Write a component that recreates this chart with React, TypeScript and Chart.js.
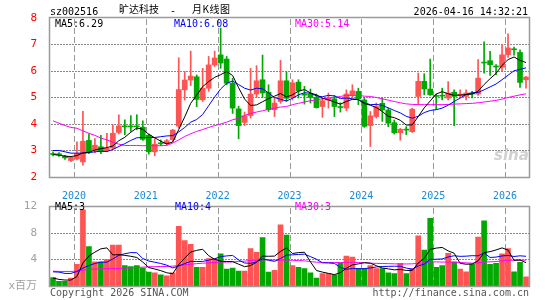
import React, { useEffect, useRef } from 'react';
import { Chart, registerables } from 'chart.js';

Chart.register(...registerables);

// ---- categories (monthly) ----
const months = [
  '2019-09', '2019-10', '2019-11', '2019-12',
  '2020-01', '2020-02', '2020-03', '2020-04', '2020-05', '2020-06', '2020-07', '2020-08', '2020-09', '2020-10', '2020-11', '2020-12',
  '2021-01', '2021-02', '2021-03', '2021-04', '2021-05', '2021-06', '2021-07', '2021-08', '2021-09', '2021-10', '2021-11', '2021-12',
  '2022-01', '2022-02', '2022-03', '2022-04', '2022-05', '2022-06', '2022-07', '2022-08', '2022-09', '2022-10', '2022-11', '2022-12',
  '2023-01', '2023-02', '2023-03', '2023-04', '2023-05', '2023-06', '2023-07', '2023-08', '2023-09', '2023-10', '2023-11', '2023-12',
  '2024-01', '2024-02', '2024-03', '2024-04', '2024-05', '2024-06', '2024-07', '2024-08', '2024-09', '2024-10', '2024-11', '2024-12',
  '2025-01', '2025-02', '2025-03', '2025-04', '2025-05', '2025-06', '2025-07', '2025-08', '2025-09', '2025-10', '2025-11', '2025-12',
  '2026-01', '2026-02', '2026-03', '2026-04',
];

// ---- price series ----
const opens = [2.88, 2.86, 2.78, 2.62, 2.68, 2.57, 3.38, 3.02, 3.14, 2.99, 3.09, 3.68, 3.93, 3.92, 3.92, 3.88, 3.58, 2.95, 3.28, 3.26,
  3.41, 3.92, 5.29, 5.66, 5.78, 4.91, 5.35, 6.23, 6.61, 6.45, 5.54, 4.57, 4.06, 4.32, 5.13, 5.67, 5.2, 4.54, 4.85, 5.63,
  5.0, 5.58, 5.13, 5.13, 5.01, 4.66, 4.9, 4.95, 4.64, 4.6, 5.1, 5.23, 4.91, 3.94, 4.28, 4.78, 4.53, 4.05, 3.67, 3.79,
  3.71, 5.04, 5.61, 5.32, 5.06, 5.08, 4.98, 5.2, 5.08, 5.04, 5.15, 5.13, 6.33, 6.39, 6.18, 6.14, 6.61, 6.82, 6.7, 5.67];
const highs = [2.95, 2.92, 2.82, 2.76, 3.33, 4.48, 3.62, 3.45, 3.57, 3.65, 3.97, 4.35, 4.16, 4.32, 4.35, 4.12, 3.62, 3.45, 3.4, 3.42,
  3.8, 6.5, 5.98, 6.75, 5.85, 6.1, 6.55, 6.75, 7.62, 6.55, 5.73, 4.67, 4.45, 6.1, 6.2, 6.6, 5.48, 5.0, 6.4, 5.97,
  5.67, 5.67, 5.42, 5.32, 5.13, 4.98, 5.17, 5.08, 4.8, 5.29, 5.48, 5.35, 5.0, 4.47, 4.79, 4.98, 4.6, 4.15, 3.84, 3.9,
  4.6, 5.92, 5.9, 6.45, 5.13, 5.35, 5.6, 5.29, 5.29, 5.29, 5.23, 6.43, 7.1, 6.74, 6.24, 7.0, 7.4, 6.9, 6.8, 5.8];
const lows = [2.8, 2.78, 2.66, 2.58, 2.64, 2.45, 2.88, 2.92, 2.88, 2.96, 3.05, 3.63, 3.59, 3.72, 3.78, 3.38, 2.86, 2.8, 3.18, 3.2,
  3.35, 3.85, 4.9, 5.45, 4.65, 4.85, 5.23, 6.17, 6.1, 5.48, 4.4, 3.44, 3.94, 4.22, 5.0, 5.0, 4.47, 4.28, 4.78, 4.85,
  4.91, 4.98, 4.75, 4.79, 4.6, 4.25, 4.6, 4.28, 4.45, 4.5, 4.98, 4.73, 3.87, 3.15, 4.22, 4.1, 3.9, 3.62, 3.39, 3.6,
  3.68, 4.73, 5.1, 5.08, 4.54, 4.91, 4.91, 3.94, 4.98, 4.91, 4.98, 5.08, 5.92, 5.83, 5.86, 5.98, 6.51, 6.6, 5.38, 5.35];
const closes = [2.85, 2.84, 2.72, 2.74, 2.88, 3.35, 2.95, 3.2, 2.97, 3.08, 3.65, 3.93, 3.89, 3.89, 3.89, 3.42, 2.95, 3.24, 3.25, 3.37,
  3.77, 5.3, 5.66, 5.81, 4.93, 5.35, 6.23, 6.49, 6.3, 5.54, 4.6, 3.94, 4.31, 5.13, 5.63, 5.17, 4.54, 4.79, 5.63, 4.97,
  5.55, 5.25, 5.09, 5.0, 4.62, 4.88, 4.98, 4.66, 4.62, 5.13, 5.25, 4.95, 3.91, 4.31, 4.66, 4.53, 4.03, 3.67, 3.8, 3.77,
  4.56, 5.61, 5.32, 5.1, 5.04, 5.05, 5.17, 5.04, 5.13, 5.17, 5.13, 5.73, 6.3, 6.24, 6.15, 6.61, 6.87, 6.8, 5.57, 5.77];
const ma5 = [2.85, 2.82, 2.79, 2.77, 2.81, 2.91, 2.93, 3.02, 3.07, 3.11, 3.17, 3.37, 3.5, 3.69, 3.85, 3.8, 3.61, 3.48, 3.35, 3.25,
  3.32, 3.79, 4.27, 4.78, 5.09, 5.41, 5.6, 5.76, 5.86, 5.98, 5.83, 5.37, 4.94, 4.7, 4.72, 4.84, 4.96, 5.05, 5.15, 5.02,
  5.1, 5.24, 5.3, 5.17, 5.1, 4.97, 4.91, 4.83, 4.75, 4.85, 4.93, 4.92, 4.77, 4.71, 4.62, 4.47, 4.29, 4.24, 4.14, 3.96,
  3.97, 4.28, 4.61, 4.87, 5.13, 5.22, 5.14, 5.08, 5.09, 5.11, 5.13, 5.24, 5.49, 5.71, 5.91, 6.21, 6.43, 6.53, 6.4, 6.32];
const ma10 = [3.0, 3.0, 2.95, 2.9, 2.9, 2.9, 2.92, 2.95, 2.97, 2.96, 3.04, 3.15, 3.26, 3.38, 3.48, 3.49, 3.49, 3.49, 3.52, 3.55,
  3.56, 3.7, 3.87, 4.07, 4.17, 4.36, 4.69, 5.02, 5.32, 5.54, 5.62, 5.49, 5.35, 5.28, 5.35, 5.33, 5.17, 5.0, 4.93, 4.87,
  4.97, 5.1, 5.18, 5.16, 5.06, 5.03, 5.08, 5.06, 4.96, 4.98, 4.95, 4.92, 4.8, 4.73, 4.74, 4.7, 4.61, 4.51, 4.42, 4.29,
  4.22, 4.29, 4.43, 4.51, 4.54, 4.6, 4.71, 4.85, 4.98, 5.12, 5.18, 5.19, 5.29, 5.4, 5.51, 5.67, 5.84, 6.01, 6.06, 6.12];
const ma30 = [4.12, 4.03, 3.94, 3.87, 3.84, 3.74, 3.65, 3.57, 3.47, 3.4, 3.31, 3.24, 3.19, 3.19, 3.19, 3.18, 3.18, 3.18, 3.18, 3.19,
  3.28, 3.4, 3.53, 3.63, 3.72, 3.79, 3.87, 3.94, 4.0, 4.07, 4.16, 4.22, 4.32, 4.4, 4.45, 4.5, 4.55, 4.6, 4.64, 4.66,
  4.73, 4.78, 4.83, 4.88, 4.91, 4.95, 4.98, 5.0, 5.04, 5.08, 5.08, 5.08, 5.05, 5.04, 5.0, 4.95, 4.9, 4.85, 4.8, 4.76,
  4.74, 4.73, 4.73, 4.73, 4.73, 4.73, 4.74, 4.75, 4.76, 4.77, 4.78, 4.8, 4.83, 4.86, 4.89, 4.94, 5.0, 5.05, 5.1, 5.14];

// ---- volume series (x 百万) ----
const volumes = [1.29, 0.71, 0.71, 1.19, 3.29, 11.5, 5.95, 3.67, 3.67, 4.0, 6.19, 6.19, 3.1, 2.95, 3.1, 2.71, 2.1, 2.0, 1.67, 1.52,
  2.0, 9.0, 6.86, 6.29, 2.81, 2.81, 4.14, 4.14, 4.86, 2.57, 2.71, 2.24, 2.24, 5.67, 5.1, 7.33, 2.1, 2.38, 9.24, 7.71,
  3.1, 2.81, 2.62, 2.0, 1.19, 1.86, 1.86, 1.67, 3.52, 4.52, 4.38, 2.62, 2.62, 3.1, 2.62, 2.62, 2.0, 1.86, 3.43, 1.86,
  2.62, 7.57, 5.43, 10.24, 2.81, 3.1, 4.95, 3.67, 2.57, 2.14, 3.29, 7.38, 9.86, 3.29, 3.43, 4.86, 5.67, 2.14, 3.57, 1.38];
const vma5 = [1.2, 1.0, 0.9, 0.9, 1.44, 3.48, 4.53, 5.12, 5.62, 5.76, 4.7, 4.74, 4.63, 4.49, 4.31, 3.61, 2.79, 2.57, 2.32, 2.0,
  1.86, 3.24, 4.21, 5.13, 5.39, 5.55, 4.58, 4.04, 3.75, 3.7, 3.68, 3.3, 2.92, 3.09, 3.59, 4.52, 4.49, 4.52, 5.23, 5.75,
  4.91, 5.05, 5.1, 3.65, 2.34, 2.1, 1.91, 1.72, 2.02, 2.69, 3.19, 3.34, 3.53, 3.45, 3.07, 2.72, 2.59, 2.44, 2.51, 2.35,
  2.35, 3.47, 4.18, 5.54, 5.73, 5.83, 5.31, 4.95, 3.42, 3.29, 3.32, 3.81, 5.05, 5.19, 5.45, 5.76, 5.42, 3.88, 3.93, 3.52];
const vma10 = [2.14, 2.1, 1.9, 1.9, 2.2, 2.7, 3.1, 3.4, 3.6, 3.6, 4.09, 4.64, 4.88, 5.05, 5.03, 4.15, 3.77, 3.6, 3.4, 3.15,
  2.73, 3.02, 3.39, 3.73, 3.7, 3.71, 3.91, 4.12, 4.44, 4.55, 4.62, 3.94, 3.48, 3.42, 3.65, 4.1, 3.9, 3.72, 4.16, 4.67,
  4.71, 4.77, 4.81, 4.44, 4.05, 3.5, 3.48, 3.41, 2.83, 2.52, 2.64, 2.62, 2.62, 2.73, 2.88, 2.95, 2.97, 2.99, 2.98, 2.71,
  2.54, 3.03, 3.31, 4.03, 4.04, 4.09, 4.39, 4.57, 4.48, 4.51, 4.58, 4.56, 5.0, 4.31, 4.37, 4.54, 4.62, 4.46, 4.56, 4.49];
const vma30 = [2.24, 2.2, 2.2, 2.2, 2.25, 2.4, 2.5, 2.55, 2.6, 2.62, 2.62, 2.65, 2.7, 2.75, 2.8, 2.85, 2.9, 2.92, 2.95, 2.95,
  3.0, 3.1, 3.2, 3.3, 3.38, 3.45, 3.5, 3.55, 3.6, 3.62, 3.65, 3.7, 3.75, 3.85, 3.9, 3.95, 3.95, 3.92, 3.9, 3.9,
  3.88, 3.85, 3.8, 3.7, 3.6, 3.57, 3.55, 3.55, 3.55, 3.57, 3.57, 3.55, 3.5, 3.45, 3.42, 3.4, 3.38, 3.35, 3.33, 3.33,
  3.35, 3.45, 3.5, 3.65, 3.65, 3.62, 3.6, 3.58, 3.55, 3.5, 3.45, 3.5, 3.6, 3.65, 3.7, 3.8, 3.88, 3.9, 3.9, 3.9];

// ---- tick labels ----
const priceTicks = [2, 3, 4, 5, 6, 7, 8];
const volumeTicks = [0, 4, 8, 12];
const volumeUnit = 'x百万';

const RED = '#ff5454';
const GREEN = '#00a800';
const MONO = "'DejaVu Sans Mono', 'Noto Sans CJK SC', monospace";

const isUp = (i: number) => closes[i] >= opens[i];
const candleColors = months.map((_, i) => (isUp(i) ? RED : GREEN));
const isJan = (i: number) => !!months[i] && months[i].endsWith('-01');

// Grid (dotted value lines, dashed year lines) positioned by the chart's own scales, then the frame.
const paintGrid = (chart: any) => {
  const { ctx, chartArea, scales } = chart;
  const left = Math.round(chartArea.left);
  const right = Math.round(chartArea.right);
  const top = Math.round(chartArea.top);
  const bottom = Math.round(chartArea.bottom);
  const xs = scales.x;
  const ys = scales.y;
  ctx.save();
  ctx.globalAlpha = 1;
  ctx.globalCompositeOperation = 'source-over';
  ctx.fillStyle = '#888888';
  ys.ticks.forEach((t: any, k: number) => {
    if (k === 0 || k === ys.ticks.length - 1) return;
    const row = Math.floor(ys.getPixelForValue(t.value));
    for (let x = left + 1; x < right; x += 3) ctx.fillRect(x, row, 2, 1);
  });
  ctx.fillStyle = '#999999';
  months.forEach((_, i) => {
    if (!isJan(i) || i === 0) return;
    const col = Math.round((xs.getPixelForTick(i) + xs.getPixelForTick(i - 1)) / 2);
    for (let y = top + 1; y < bottom; y += 9) ctx.fillRect(col, y, 1, Math.min(6, bottom - y));
  });
  ctx.restore();
};

const gridPlugin = {
  id: 'sinaGrid',
  beforeDatasetsDraw(chart: any) {
    paintGrid(chart);
  },
  afterDatasetsDraw(chart: any) {
    const { ctx, chartArea } = chart;
    const l = Math.round(chartArea.left);
    const t = Math.round(chartArea.top);
    const r = Math.round(chartArea.right);
    const b = Math.round(chartArea.bottom);
    ctx.save();
    ctx.strokeStyle = '#9a9a9a';
    ctx.lineWidth = 1.5;
    ctx.strokeRect(l - 0.5, t - 0.5, r - l + 1, b - t + 1);
    ctx.restore();
  },
};

const lineDs = (data: number[], color: string) => ({
  type: 'line', data, borderColor: color, borderWidth: 1, pointRadius: 0, fill: false, order: 1,
});

function PriceChart() {
  const ref = useRef<HTMLCanvasElement>(null);
  useEffect(() => {
    const chart = new Chart(ref.current as HTMLCanvasElement, {
      type: 'bar',
      data: {
        labels: months,
        datasets: [
          lineDs(ma5, '#000000'),
          lineDs(ma10, '#0000ff'),
          lineDs(ma30, '#ff00ff'),
          {
            type: 'bar',
            data: opens.map((o, i) => [Math.min(o, closes[i]), Math.max(o, closes[i])]),
            backgroundColor: candleColors,
            barThickness: 5,
            minBarLength: 1,
            grouped: false,
            borderWidth: 0,
            borderSkipped: false,
            order: 2,
          },
          {
            type: 'bar',
            data: lows.map((l, i) => [l, highs[i]]),
            backgroundColor: candleColors,
            barThickness: 1,
            grouped: false,
            borderWidth: 0,
            borderSkipped: false,
            order: 3,
          },
        ],
      },
      options: {
        animation: false,
        responsive: false,
        devicePixelRatio: 1,
        events: [],
        layout: { padding: { left: 0, right: 16, top: 18, bottom: 0 } },
        plugins: { legend: { display: false }, tooltip: { enabled: false } },
        scales: {
          x: {
            type: 'category',
            offset: true,
            grid: { display: false },
            border: { display: false },
            ticks: {
              autoSkip: false,
              maxRotation: 0,
              minRotation: 0,
              padding: 5,
              labelOffset: -3,
              color: '#1a8ad4',
              font: { family: MONO, size: 10 },
              callback: (_v: any, i: number) => (isJan(i) ? months[i].slice(0, 4) : ''),
            },
            afterFit: (s: any) => { s.height = 23; },
          },
          y: {
            min: priceTicks[0],
            max: priceTicks[priceTicks.length - 1],
            afterBuildTicks: (s: any) => { s.ticks = priceTicks.map((v) => ({ value: v })); },
            grid: { display: false },
            border: { display: false },
            ticks: { color: '#ff0000', padding: 5, font: { family: MONO, size: 11 } },
            afterFit: (s: any) => { s.width = 50; },
          },
        },
      },
      plugins: [gridPlugin],
    } as any);
    return () => chart.destroy();
  }, []);
  return (
    <canvas ref={ref} width={545} height={200}
      style={{ position: 'absolute', left: 0, top: 0, width: 545, height: 200 }} />
  );
}

function VolumeChart() {
  const ref = useRef<HTMLCanvasElement>(null);
  useEffect(() => {
    const chart = new Chart(ref.current as HTMLCanvasElement, {
      type: 'bar',
      data: {
        labels: months,
        datasets: [
          lineDs(vma5, '#000000'),
          lineDs(vma10, '#0000ff'),
          lineDs(vma30, '#ff00ff'),
          {
            type: 'bar',
            data: volumes,
            backgroundColor: candleColors,
            barThickness: 5,
            grouped: false,
            borderWidth: 0,
            order: 2,
          },
        ],
      },
      options: {
        animation: false,
        responsive: false,
        devicePixelRatio: 1,
        events: [],
        layout: { padding: { left: 0, right: 16, top: 7, bottom: 0 } },
        plugins: { legend: { display: false }, tooltip: { enabled: false } },
        scales: {
          x: {
            type: 'category',
            offset: true,
            grid: { display: false },
            border: { display: false },
            ticks: { display: false },
            afterFit: (s: any) => { s.height = 14; },
          },
          y: {
            min: volumeTicks[0],
            max: volumeTicks[volumeTicks.length - 1],
            afterBuildTicks: (s: any) => { s.ticks = volumeTicks.map((v) => ({ value: v })); },
            grid: { display: false },
            border: { display: false },
            ticks: {
              color: '#a0a0a0',
              padding: 5,
              font: { family: MONO, size: 11 },
              callback: (v: any) => (v === 0 ? volumeUnit : String(v)),
            },
            afterFit: (s: any) => { s.width = 50; },
          },
        },
      },
      plugins: [gridPlugin],
    } as any);
    return () => chart.destroy();
  }, []);
  return (
    <canvas ref={ref} width={545} height={105}
      style={{ position: 'absolute', left: 0, top: 195, width: 545, height: 105 }} />
  );
}

const txt = (extra: React.CSSProperties): React.CSSProperties => ({
  position: 'absolute',
  fontFamily: MONO,
  fontSize: 10,
  lineHeight: '12px',
  whiteSpace: 'pre',
  ...extra,
});

export default function App() {
  return (
    <div style={{ position: 'fixed', left: 0, top: 0, width: 545, height: 300, background: '#ffffff', overflow: 'hidden' }}>
      <PriceChart />
      <VolumeChart />
      <div style={txt({ left: 50, top: 6, color: '#000' })}>sz002516</div>
      <div style={txt({ left: 119, top: 3, color: '#000', fontFamily: "'Noto Sans CJK SC', sans-serif", fontSize: 10 })}>旷达科技</div>
      <div style={txt({ left: 170, top: 5, color: '#000' })}>-</div>
      <div style={txt({ left: 192, top: 3, color: '#000', fontFamily: "'Noto Sans CJK SC', sans-serif", fontSize: 10, letterSpacing: 0.5 })}>月K线图</div>
      <div style={txt({ right: 17, top: 6, color: '#000' })}>2026-04-16 14:32:21</div>

      <div style={txt({ left: 55, top: 18, color: '#000' })}>MA5:6.29</div>
      <div style={txt({ left: 174, top: 18, color: '#0000ff' })}>MA10:6.08</div>
      <div style={txt({ left: 295, top: 18, color: '#ff00ff' })}>MA30:5.14</div>

      <div style={txt({ left: 55, top: 201, color: '#000' })}>MA5:3</div>
      <div style={txt({ left: 175, top: 201, color: '#0000ff' })}>MA10:4</div>
      <div style={txt({ left: 295, top: 201, color: '#ff00ff' })}>MA30:3</div>

      <div style={txt({ left: 494, top: 146, color: '#d0d0d0', fontFamily: "'DejaVu Sans', sans-serif", fontSize: 15, fontWeight: 'bold', fontStyle: 'italic', lineHeight: '18px' })}>sina</div>

      <div style={txt({ left: 50, top: 287, color: '#555' })}>Copyright 2026 SINA.COM</div>
      <div style={txt({ right: 16, top: 287, color: '#555' })}>http://finance.sina.com.cn</div>
    </div>
  );
}
